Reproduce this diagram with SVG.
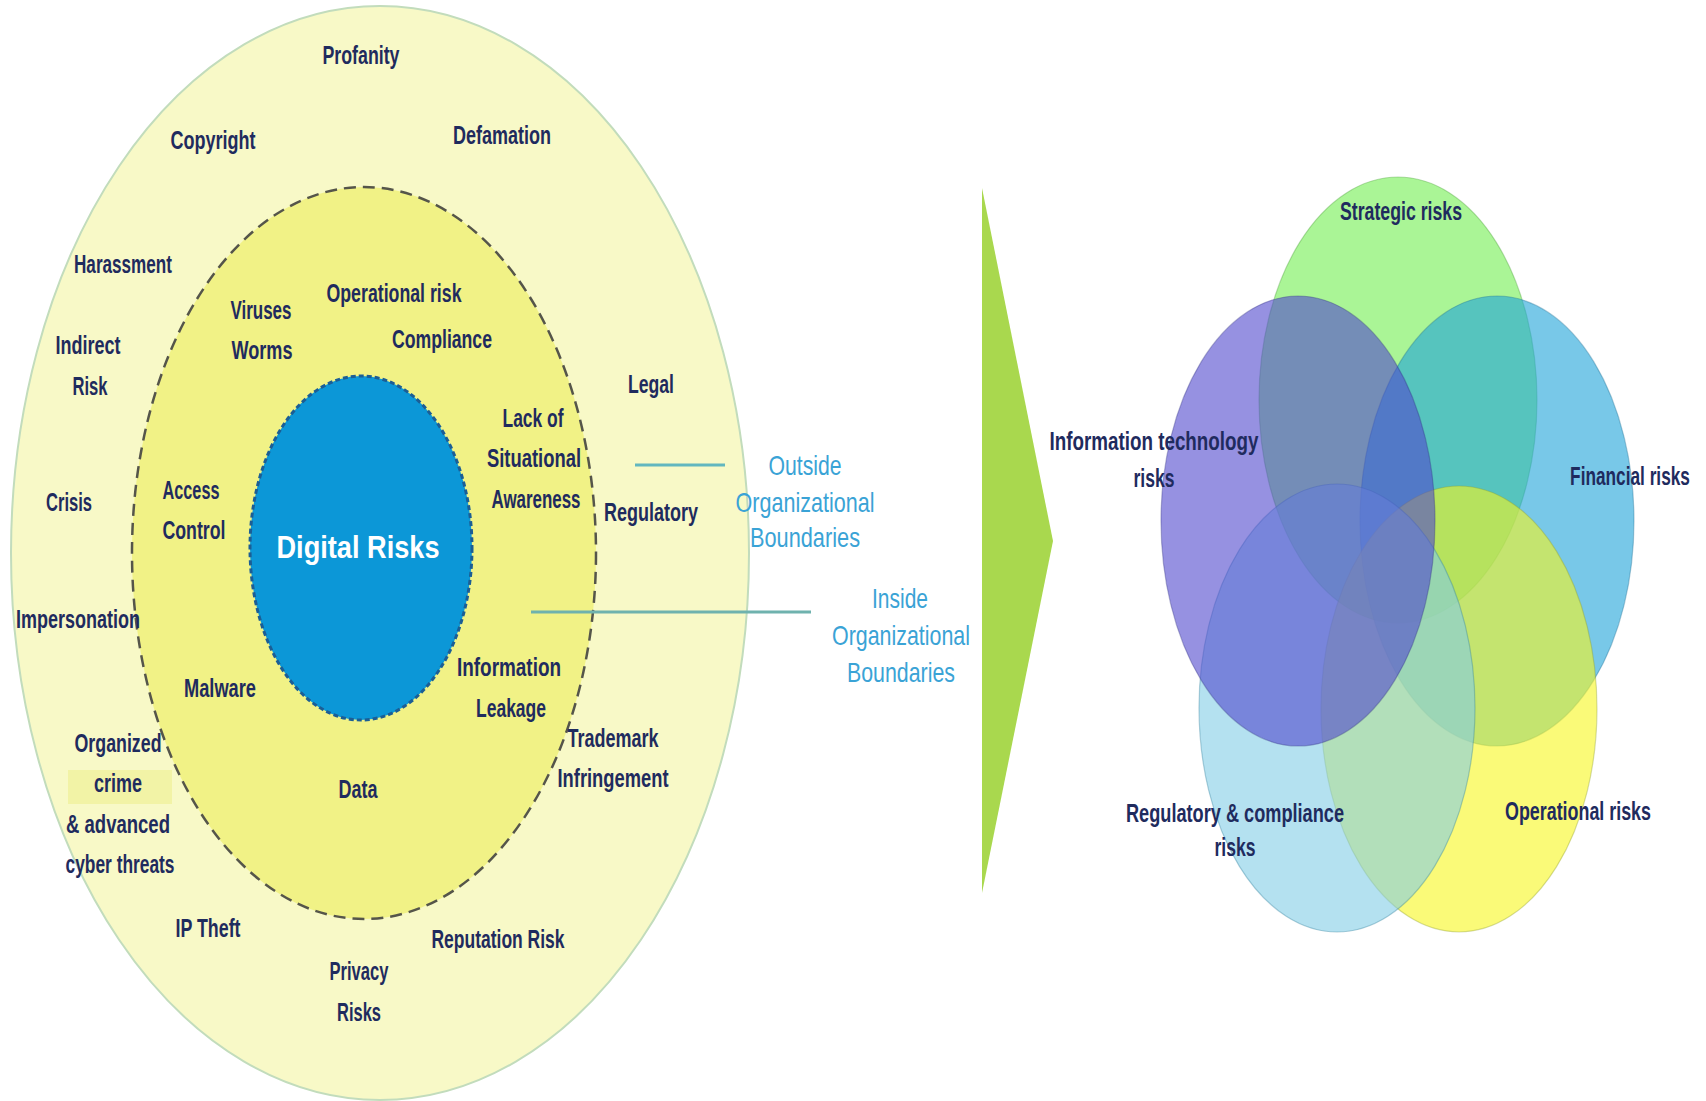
<svg xmlns="http://www.w3.org/2000/svg" width="1706" height="1101" viewBox="0 0 1706 1101">
<style>
.t{font-family:"Liberation Sans",Arial,sans-serif;font-weight:bold;font-size:25px;fill:#1f2b5e;text-anchor:middle}
.v{font-family:"Liberation Sans",Arial,sans-serif;font-weight:bold;font-size:25px;fill:#1f2b5e;text-anchor:middle}
.b{font-family:"Liberation Sans",Arial,sans-serif;font-size:28px;fill:#3aa3d6;text-anchor:middle}
.w{font-family:"Liberation Sans",Arial,sans-serif;font-weight:bold;font-size:32px;fill:#ffffff;text-anchor:middle}
.venn{fill-opacity:0.6;stroke-opacity:0.35;stroke-width:1.2}
</style>
<rect width="1706" height="1101" fill="#ffffff"/>

<g id="outer-ring">
<ellipse cx="380" cy="553" rx="369" ry="547" fill="#f8f9c7" stroke="#c2dcbc" stroke-width="2"/>
<rect x="68" y="770" width="104" height="34" fill="#f2f3a6"/>
</g>
<g id="inner-ring">
<ellipse cx="364" cy="553" rx="232" ry="366" fill="#f1f286" stroke="#55554a" stroke-width="2.5" stroke-dasharray="12 7"/>
</g>
<g id="digital-risks">
<ellipse cx="361" cy="548" rx="111" ry="172" fill="#0c97d7" stroke="#1b5e95" stroke-width="3" stroke-dasharray="5 3"/>
<text class="w" x="358" y="558" textLength="163" lengthAdjust="spacingAndGlyphs">Digital Risks</text>
</g>

<g id="outer-labels">
<text class="t" x="361" y="64" textLength="77" lengthAdjust="spacingAndGlyphs">Profanity</text>
<text class="t" x="213" y="149" textLength="85" lengthAdjust="spacingAndGlyphs">Copyright</text>
<text class="t" x="502" y="144" textLength="98" lengthAdjust="spacingAndGlyphs">Defamation</text>
<text class="t" x="123" y="273" textLength="98" lengthAdjust="spacingAndGlyphs">Harassment</text>
<text class="t" x="88" y="354" textLength="65" lengthAdjust="spacingAndGlyphs">Indirect</text>
<text class="t" x="90" y="395" textLength="35" lengthAdjust="spacingAndGlyphs">Risk</text>
<text class="t" x="69" y="511" textLength="46" lengthAdjust="spacingAndGlyphs">Crisis</text>
<text class="t" x="78" y="628" textLength="124" lengthAdjust="spacingAndGlyphs">Impersonation</text>
<text class="t" x="118" y="752" textLength="87" lengthAdjust="spacingAndGlyphs">Organized</text>
<text class="t" x="118" y="792" textLength="48" lengthAdjust="spacingAndGlyphs">crime</text>
<text class="t" x="118" y="833" textLength="104" lengthAdjust="spacingAndGlyphs">&amp; advanced</text>
<text class="t" x="120" y="873" textLength="109" lengthAdjust="spacingAndGlyphs">cyber threats</text>
<text class="t" x="208" y="937" textLength="65" lengthAdjust="spacingAndGlyphs">IP Theft</text>
<text class="t" x="359" y="980" textLength="59" lengthAdjust="spacingAndGlyphs">Privacy</text>
<text class="t" x="359" y="1021" textLength="44" lengthAdjust="spacingAndGlyphs">Risks</text>
<text class="t" x="498" y="948" textLength="133" lengthAdjust="spacingAndGlyphs">Reputation Risk</text>
<text class="t" x="613" y="747" textLength="91" lengthAdjust="spacingAndGlyphs">Trademark</text>
<text class="t" x="613" y="787" textLength="111" lengthAdjust="spacingAndGlyphs">Infringement</text>
<text class="t" x="651" y="521" textLength="94" lengthAdjust="spacingAndGlyphs">Regulatory</text>
<text class="t" x="651" y="393" textLength="46" lengthAdjust="spacingAndGlyphs">Legal</text>
</g>

<g id="inner-labels">
<text class="t" x="261" y="319" textLength="61" lengthAdjust="spacingAndGlyphs">Viruses</text>
<text class="t" x="262" y="359" textLength="61" lengthAdjust="spacingAndGlyphs">Worms</text>
<text class="t" x="394" y="302" textLength="135" lengthAdjust="spacingAndGlyphs">Operational risk</text>
<text class="t" x="442" y="348" textLength="100" lengthAdjust="spacingAndGlyphs">Compliance</text>
<text class="t" x="533" y="427" textLength="61" lengthAdjust="spacingAndGlyphs">Lack of</text>
<text class="t" x="534" y="467" textLength="94" lengthAdjust="spacingAndGlyphs">Situational</text>
<text class="t" x="536" y="508" textLength="89" lengthAdjust="spacingAndGlyphs">Awareness</text>
<text class="t" x="191" y="499" textLength="57" lengthAdjust="spacingAndGlyphs">Access</text>
<text class="t" x="194" y="539" textLength="63" lengthAdjust="spacingAndGlyphs">Control</text>
<text class="t" x="220" y="697" textLength="72" lengthAdjust="spacingAndGlyphs">Malware</text>
<text class="t" x="509" y="676" textLength="104" lengthAdjust="spacingAndGlyphs">Information</text>
<text class="t" x="511" y="717" textLength="70" lengthAdjust="spacingAndGlyphs">Leakage</text>
<text class="t" x="358" y="798" textLength="39" lengthAdjust="spacingAndGlyphs">Data</text>
</g>

<g id="connectors">
<line x1="635" y1="465" x2="725" y2="465" stroke="#62b7bf" stroke-width="3"/>
<line x1="531" y1="612" x2="811" y2="612" stroke="#6fb2ae" stroke-width="3"/>
</g>

<g id="outside-boundaries">
<text class="b" x="805" y="475" textLength="73" lengthAdjust="spacingAndGlyphs">Outside</text>
<text class="b" x="805" y="512" textLength="139" lengthAdjust="spacingAndGlyphs">Organizational</text>
<text class="b" x="805" y="547" textLength="110" lengthAdjust="spacingAndGlyphs">Boundaries</text>
</g>
<g id="inside-boundaries">
<text class="b" x="900" y="608" textLength="56" lengthAdjust="spacingAndGlyphs">Inside</text>
<text class="b" x="901" y="645" textLength="138" lengthAdjust="spacingAndGlyphs">Organizational</text>
<text class="b" x="901" y="682" textLength="108" lengthAdjust="spacingAndGlyphs">Boundaries</text>
</g>

<g id="chevron">
<polygon points="982,188 1053,541 982,893" fill="#a9d84e"/>
</g>

<g id="venn">
<ellipse id="strategic" class="venn" cx="1398" cy="400" rx="139" ry="223" fill="#71ee50" stroke="#4a9a3a"/>
<ellipse id="financial" class="venn" cx="1497" cy="521" rx="137" ry="225" fill="#1ea3d9" stroke="#1a6a90"/>
<ellipse id="operational" class="venn" cx="1459" cy="709" rx="138" ry="223" fill="#f7f71e" stroke="#8a9a30"/>
<ellipse id="regulatory" class="venn" cx="1337" cy="708" rx="138" ry="224" fill="#82cde6" stroke="#2a7a98"/>
<ellipse id="it" class="venn" cx="1298" cy="521" rx="137" ry="225" fill="#5048cd" stroke="#303080"/>
</g>

<g id="venn-labels">
<text class="v" x="1401" y="220" textLength="122" lengthAdjust="spacingAndGlyphs">Strategic risks</text>
<text class="v" x="1154" y="450" textLength="209" lengthAdjust="spacingAndGlyphs">Information technology</text>
<text class="v" x="1154" y="487" textLength="41" lengthAdjust="spacingAndGlyphs">risks</text>
<text class="v" transform="translate(1630,485) scale(0.69,1)" x="0" y="0">Financial risks</text>
<text class="v" x="1235" y="822" textLength="218" lengthAdjust="spacingAndGlyphs">Regulatory &amp; compliance</text>
<text class="v" x="1235" y="856" textLength="41" lengthAdjust="spacingAndGlyphs">risks</text>
<text class="v" x="1578" y="820" textLength="146" lengthAdjust="spacingAndGlyphs">Operational risks</text>
</g>
</svg>
